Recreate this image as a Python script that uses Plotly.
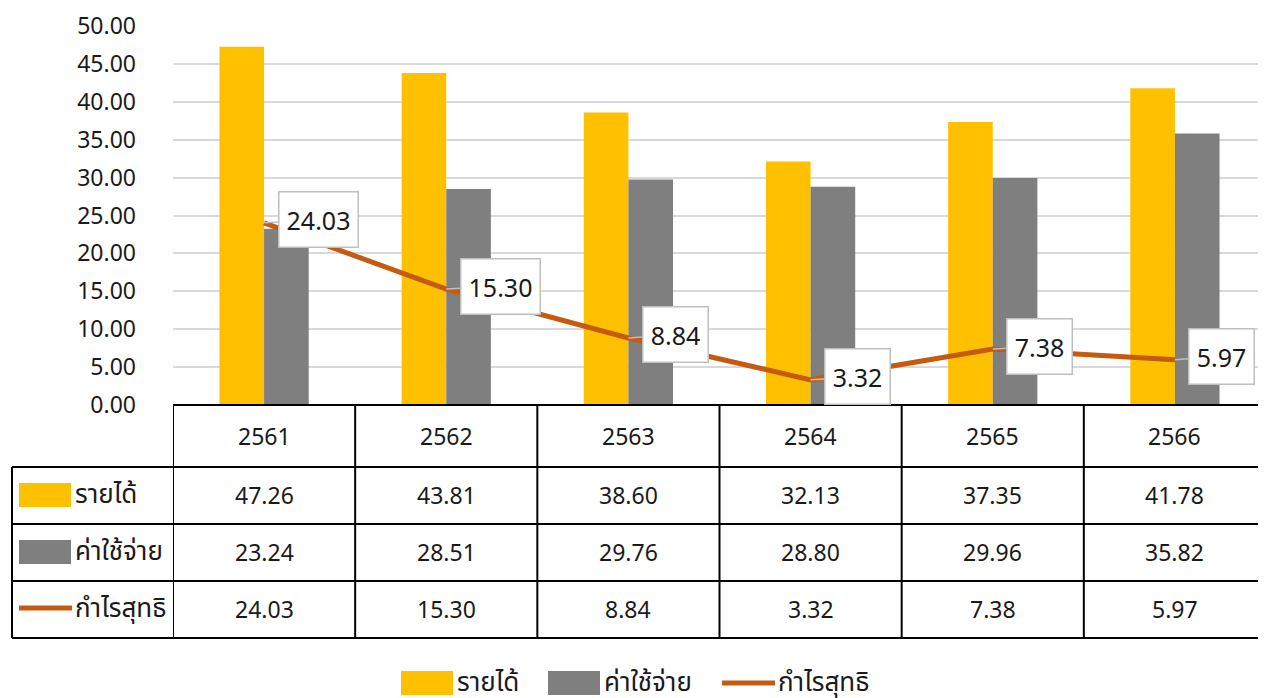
import plotly.graph_objects as go

# ---------------------------------------------------------------------------
# Data
# ---------------------------------------------------------------------------
years = ["2561", "2562", "2563", "2564", "2565", "2566"]
revenue = [47.26, 43.81, 38.60, 32.13, 37.35, 41.78]
expense = [23.24, 28.51, 29.76, 28.80, 29.96, 35.82]
profit = [24.03, 15.30, 8.84, 3.32, 7.38, 5.97]
series_names = ["รายได้", "ค่าใช้จ่าย", "กำไรสุทธิ"]

COLORS = ["#FFC000", "#7F7F7F", "#C55A11"]
FONT = "Noto Sans, Noto Sans Thai, Tahoma, sans-serif"
TXT = "#1a1a1a"

# ---------------------------------------------------------------------------
# Geometry: positions are given in screen pixels; the page body adds 8px
# ---------------------------------------------------------------------------
OFF = 8
W, H = 1266 - OFF, 698 - OFF
L, T, B = 173, 26, 405  # plot left, top, bottom on screen (px)
PW, PH = 1266 - L, B - T


def px_x(p):
    return (p - L) / PW


def px_y(p):
    return (B - p) / PH


fig = go.Figure()
fig.add_trace(go.Bar(x=years, y=revenue, name=series_names[0],
                     marker=dict(color=COLORS[0], line=dict(width=0))))
fig.add_trace(go.Bar(x=years, y=expense, name=series_names[1],
                     marker=dict(color=COLORS[1], line=dict(width=0))))
fig.add_trace(go.Scatter(x=years, y=profit, name=series_names[2], mode="lines",
                         line=dict(color=COLORS[2], width=5)))

# callout labels on the profit line (x given as category index)
for i, v in enumerate(profit):
    label = f"{v:.2f}"
    bw = 78 if len(label) > 4 else 64
    fig.add_annotation(x=i, y=v, text=label, showarrow=True,
                       ax=15 + bw / 2, ay=-3, arrowhead=0, arrowwidth=1.5,
                       arrowcolor="#BFBFBF", standoff=0,
                       width=bw, height=54,
                       bgcolor="white", bordercolor="#BFBFBF", borderwidth=1.5,
                       borderpad=0, font=dict(size=25, color=TXT))

# ---------------------------------------------------------------------------
# Data table under the axis
# ---------------------------------------------------------------------------
row_lines = [467, 524, 581, 638]
row_centers = [495, 552, 609]
line_style = dict(color="black", width=2)
shapes = []

for i in range(len(years) + 1):
    shapes.append(dict(type="line", xref="x", yref="paper",
                       x0=i - 0.5, x1=i - 0.5, y0=0, y1=px_y(638), line=line_style))
shapes.append(dict(type="line", xref="paper", yref="paper",
                   x0=0, x1=1.01, y0=0, y1=0, line=line_style))
for r in row_lines:
    shapes.append(dict(type="line", xref="paper", yref="paper",
                       x0=px_x(12), x1=1.01, y0=px_y(r), y1=px_y(r), line=line_style))
shapes.append(dict(type="line", xref="paper", yref="paper",
                   x0=px_x(12), x1=px_x(12), y0=px_y(467), y1=px_y(638), line=line_style))

# header years
for i, yr in enumerate(years):
    fig.add_annotation(x=i, y=px_y(436), xref="x", yref="paper", text=yr,
                       showarrow=False, yanchor="middle",
                       font=dict(size=23, color=TXT))

# body values
for vals, yc in zip([revenue, expense, profit], row_centers):
    for i, v in enumerate(vals):
        fig.add_annotation(x=i, y=px_y(yc), xref="x", yref="paper",
                           text=f"{v:.2f}", showarrow=False, yanchor="middle",
                           font=dict(size=23, color=TXT))

# row keys: swatch + name
THAI_SHIFT = 2
for k, (name, yc) in enumerate(zip(series_names, row_centers)):
    if k < 2:
        shapes.append(dict(type="rect", xref="paper", yref="paper",
                           x0=px_x(19), x1=px_x(71), y0=px_y(yc + 12), y1=px_y(yc - 12),
                           fillcolor=COLORS[k], line=dict(width=0)))
    else:
        shapes.append(dict(type="line", xref="paper", yref="paper",
                           x0=px_x(19), x1=px_x(72), y0=px_y(yc - 1), y1=px_y(yc - 1),
                           line=dict(color=COLORS[k], width=5)))
    fig.add_annotation(x=px_x(73), y=px_y(yc), xref="paper", yref="paper",
                       text=name, showarrow=False, xanchor="left", yanchor="middle",
                       yshift=THAI_SHIFT, font=dict(size=26, color=TXT))

# ---------------------------------------------------------------------------
# Legend at the bottom (drawn by hand to match the large swatches)
# ---------------------------------------------------------------------------
leg_y = 683
leg_x = [401, 548, 722]
for k, (name, x0) in enumerate(zip(series_names, leg_x)):
    if k < 2:
        shapes.append(dict(type="rect", xref="paper", yref="paper",
                           x0=px_x(x0), x1=px_x(x0 + 52), y0=px_y(leg_y + 12), y1=px_y(leg_y - 12),
                           fillcolor=COLORS[k], line=dict(width=0)))
    else:
        shapes.append(dict(type="line", xref="paper", yref="paper",
                           x0=px_x(x0), x1=px_x(x0 + 53), y0=px_y(leg_y), y1=px_y(leg_y),
                           line=dict(color=COLORS[k], width=5)))
    fig.add_annotation(x=px_x(x0 + 54), y=px_y(leg_y), xref="paper", yref="paper",
                       text=name, showarrow=False, xanchor="left", yanchor="middle",
                       yshift=THAI_SHIFT, font=dict(size=26, color=TXT))

fig.update_layout(
    width=W, height=H,
    margin=dict(l=L - OFF, r=0, t=T - OFF, b=H - (B - OFF)),
    barmode="group", bargap=0.51, bargroupgap=0,
    plot_bgcolor="white", paper_bgcolor="white",
    font=dict(family=FONT, size=20, color=TXT),
    showlegend=False,
    shapes=shapes,
    xaxis=dict(type="category", range=[-0.5, len(years) - 0.5],
               showticklabels=False, showgrid=False,
               zeroline=False, showline=False, ticks=""),
    yaxis=dict(range=[0, 50], dtick=5, tickformat=".2f",
               gridcolor="#D9D9D9", gridwidth=2, zeroline=False,
               showline=False, ticklabelstandoff=36,
               tickfont=dict(size=23, color=TXT)),
)

fig.write_html("out.html")
